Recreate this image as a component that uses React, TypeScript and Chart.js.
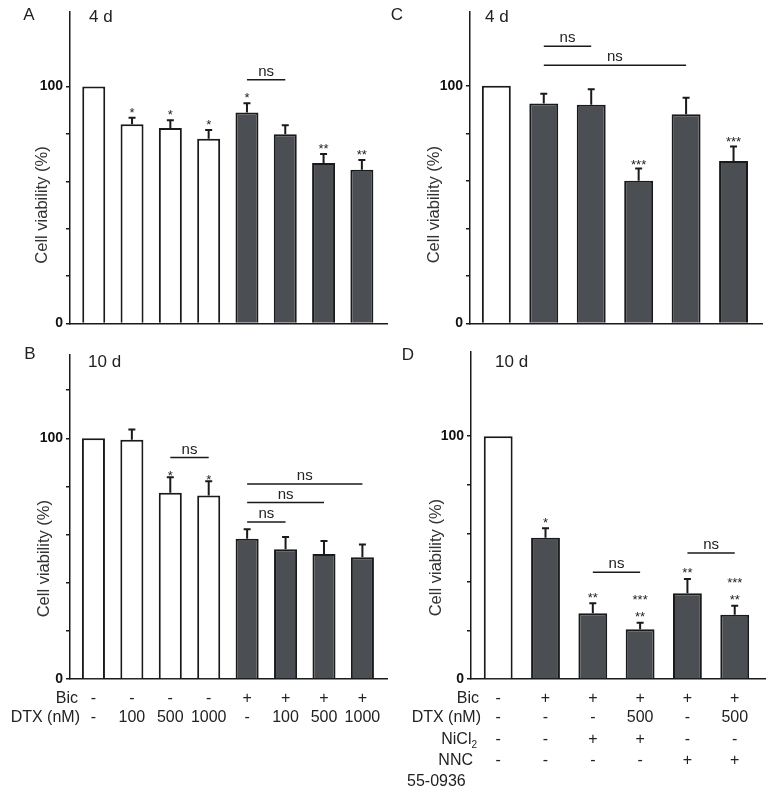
import React, { useEffect, useRef } from 'react';
import { Chart, registerables } from 'chart.js';

Chart.register(...registerables);

const FONT = '"Liberation Sans", Arial, Helvetica, sans-serif';
const WHITE = '#ffffff';
const DARK = '#4b4e52';
const INK = '#1a1a1a';
const TEXT = '#222222';

// ---------- Data: panels A / B (8 groups) ----------
const abBic = ['-', '-', '-', '-', '+', '+', '+', '+'];
const abDtx = ['-', '100', '500', '1000', '-', '100', '500', '1000'];

const aValues = [100, 84.1, 82.5, 77.9, 89.0, 79.8, 67.7, 64.9];
const aErrors = [0, 2.7, 3.2, 3.7, 3.9, 3.8, 3.8, 4.1];
const aStars = [[], ['*'], ['*'], ['*'], ['*'], [], ['**'], ['**']];
const aNs = [[4, 5, 102.8]];

const bValues = [100, 99.4, 77.4, 76.2, 58.3, 53.9, 51.9, 50.6];
const bErrors = [0, 4.2, 6.4, 6.0, 3.9, 5.1, 5.4, 5.3];
const bStars = [[], [], ['*'], ['*'], [], [], [], []];
const bNs = [[2, 3, 92.0], [4, 7, 81.0], [4, 6, 73.3], [4, 5, 65.2]];

// ---------- Data: panels C / D (6 groups) ----------
const cdBic = ['-', '+', '+', '+', '+', '+'];
const cdDtx = ['-', '-', '-', '500', '-', '500'];
const cdNiCl2 = ['-', '-', '+', '+', '-', '-'];
const cdNnc = ['-', '-', '-', '-', '+', '+'];

const cValues = [100, 92.5, 92.0, 60.1, 88.0, 68.4];
const cErrors = [0, 4.1, 6.5, 5.1, 6.9, 6.1];
const cStars = [[], [], [], ['***'], [], ['***']];
const cNs = [[1, 2, 116.6], [1, 4, 108.6]];

const dValues = [100, 58.2, 27.1, 20.5, 35.3, 26.5];
const dErrors = [0, 3.9, 4.1, 2.7, 5.9, 3.7];
const dStars = [[], ['*'], ['**'], ['***', '**'], ['**'], ['***', '**']];
const dNs = [[2, 3, 44.0], [4, 5, 51.9]];

type Row = { label: string; sub?: string; cells: string[]; dy: number; x: number; align?: CanvasTextAlign };

type PanelCfg = {
  letter: string;
  day: string;
  values: number[];
  errors: number[];
  stars: string[][];
  ns: number[][];
  bic: string[];
  box: { x: number; y: number; w: number; h: number };
  pad: { top: number; right: number; bottom: number };
  axisW: number;
  xMin: number;
  xMax: number;
  yMax: number;
  show120: boolean;
  barPct: number;
  titleX: number;
  letterPos: [number, number];
  dayPos: [number, number];
  starGap: number;
  rows: Row[];
};

const panels: PanelCfg[] = [
  {
    letter: 'A', day: '4 d', values: aValues, errors: aErrors, stars: aStars, ns: aNs, bic: abBic,
    box: { x: 0, y: 0, w: 390, h: 335 }, pad: { top: 12, right: 3, bottom: 8 }, axisW: 70,
    xMin: -0.62, xMax: 7.656, yMax: 131.4, show120: false, barPct: 0.6,
    titleX: 42, letterPos: [29, 15], dayPos: [89, 17], starGap: 8.5, rows: [],
  },
  {
    letter: 'C', day: '4 d', values: cValues, errors: cErrors, stars: cStars, ns: cNs, bic: cdBic,
    box: { x: 385, y: 0, w: 389, h: 335 }, pad: { top: 12, right: 12, bottom: 7 }, axisW: 85,
    xMin: -0.555, xMax: 5.6, yMax: 131, show120: false, barPct: 0.61,
    titleX: 49, letterPos: [12, 15], dayPos: [100, 17], starGap: 7.5, rows: [],
  },
  {
    letter: 'B', day: '10 d', values: bValues, errors: bErrors, stars: bStars, ns: bNs, bic: abBic,
    box: { x: 0, y: 335, w: 390, h: 457 }, pad: { top: 20, right: 3, bottom: 113 }, axisW: 70,
    xMin: -0.61, xMax: 7.64, yMax: 134.6, show120: true, barPct: 0.6,
    titleX: 44, letterPos: [30, 19], dayPos: [88, 27], starGap: 4.5,
    rows: [
      { label: 'Bic', cells: abBic, dy: 19.5, x: 78 },
      { label: 'DTX (nM)', cells: abDtx, dy: 39, x: 80 },
    ],
  },
  {
    letter: 'D', day: '10 d', values: dValues, errors: dErrors, stars: dStars, ns: dNs, bic: cdBic,
    box: { x: 385, y: 335, w: 389, h: 457 }, pad: { top: 17, right: 9, bottom: 113 }, axisW: 86,
    xMin: -0.575, xMax: 5.64, yMax: 134.7, show120: false, barPct: 0.61,
    titleX: 51, letterPos: [23, 20], dayPos: [110, 27], starGap: 9,
    rows: [
      { label: 'Bic', cells: cdBic, dy: 19.5, x: 94 },
      { label: 'DTX (nM)', cells: cdDtx, dy: 39, x: 96 },
      { label: 'NiCl', sub: '2', cells: cdNiCl2, dy: 61, x: 92 },
      { label: 'NNC', cells: cdNnc, dy: 81.5, x: 88 },
      { label: '55-0936', cells: [], dy: 103, x: 22, align: 'left' },
    ],
  },
];

function makeDecorPlugin(cfg: PanelCfg) {
  return {
    id: 'decor' + cfg.letter,
    afterDatasetsDraw(chart: any) {
      const ctx: CanvasRenderingContext2D = chart.ctx;
      const xs = chart.scales.x;
      const ys = chart.scales.y;
      const area = chart.chartArea;
      const meta = chart.getDatasetMeta(0);
      ctx.save();
      // error bars
      ctx.strokeStyle = INK;
      ctx.lineWidth = 2;
      meta.data.forEach((bar: any, i: number) => {
        const e = cfg.errors[i];
        if (!e) return;
        const base = ys.getPixelForValue(cfg.values[i]);
        const top = ys.getPixelForValue(cfg.values[i] + e);
        ctx.beginPath();
        ctx.moveTo(bar.x, base);
        ctx.lineTo(bar.x, top);
        ctx.moveTo(bar.x - 3.5, top);
        ctx.lineTo(bar.x + 3.5, top);
        ctx.stroke();
      });
      // stars
      ctx.fillStyle = TEXT;
      ctx.textAlign = 'center';
      ctx.textBaseline = 'alphabetic';
      ctx.font = `13px ${FONT}`;
      meta.data.forEach((bar: any, i: number) => {
        const lines = cfg.stars[i];
        if (!lines || !lines.length) return;
        const top = ys.getPixelForValue(cfg.values[i] + cfg.errors[i]);
        const n = lines.length;
        lines.forEach((s, k) => {
          const cy = top - cfg.starGap - (n - 1 - k) * 17;
          ctx.fillText(s, bar.x, cy + 7.5);
        });
      });
      // ns brackets
      ctx.lineWidth = 1.5;
      ctx.font = `15px ${FONT}`;
      ctx.textBaseline = 'middle';
      cfg.ns.forEach(([a, b, v]) => {
        const x1 = xs.getPixelForValue(a);
        const x2 = xs.getPixelForValue(b);
        const y = ys.getPixelForValue(v);
        ctx.beginPath();
        ctx.moveTo(x1, y);
        ctx.lineTo(x2, y);
        ctx.stroke();
        ctx.fillText('ns', (x1 + x2) / 2, y - 8);
      });
      ctx.restore();
    },
    afterDraw(chart: any) {
      const ctx: CanvasRenderingContext2D = chart.ctx;
      const xs = chart.scales.x;
      const ys = chart.scales.y;
      const area = chart.chartArea;
      ctx.save();
      ctx.fillStyle = TEXT;
      // panel letter & day
      ctx.font = `17px ${FONT}`;
      ctx.textBaseline = 'middle';
      ctx.textAlign = 'center';
      ctx.fillText(cfg.letter, cfg.letterPos[0], cfg.letterPos[1]);
      ctx.textAlign = 'left';
      ctx.fillText(cfg.day, cfg.dayPos[0], cfg.dayPos[1]);
      // y title
      ctx.save();
      ctx.fillStyle = '#333333';
      ctx.font = `16.5px ${FONT}`;
      ctx.translate(cfg.titleX, ys.getPixelForValue(50));
      ctx.rotate(-Math.PI / 2);
      ctx.textAlign = 'center';
      ctx.textBaseline = 'middle';
      ctx.fillText('Cell viability (%)', 0, 0);
      ctx.restore();
      // condition table
      ctx.font = `16px ${FONT}`;
      ctx.textBaseline = 'middle';
      cfg.rows.forEach((r) => {
        const y = area.bottom + r.dy;
        if (r.align === 'left') {
          ctx.textAlign = 'left';
          ctx.fillText(r.label, r.x, y);
        } else if (r.sub) {
          ctx.font = `10px ${FONT}`;
          const sw = ctx.measureText(r.sub).width;
          ctx.textAlign = 'left';
          ctx.fillText(r.sub, r.x - sw, y + 5);
          ctx.font = `16px ${FONT}`;
          ctx.textAlign = 'right';
          ctx.fillText(r.label, r.x - sw, y);
        } else {
          ctx.textAlign = 'right';
          ctx.fillText(r.label, r.x, y);
        }
        ctx.textAlign = 'center';
        r.cells.forEach((c, i) => {
          ctx.fillText(c, xs.getPixelForValue(i), y);
        });
      });
      ctx.restore();
    },
  };
}

function buildConfig(cfg: PanelCfg): any {
  const data = cfg.values.map((v, i) => ({ x: i, y: v }));
  return {
    type: 'bar',
    data: {
      datasets: [
        {
          data,
          backgroundColor: cfg.bic.map((b) => (b === '+' ? DARK : WHITE)),
          borderColor: INK,
          borderWidth: 2,
          borderSkipped: 'start',
          barPercentage: cfg.barPct,
          categoryPercentage: 1,
        },
      ],
    },
    options: {
      animation: false,
      responsive: false,
      devicePixelRatio: 1,
      layout: { padding: { left: 0, top: cfg.pad.top, right: cfg.pad.right, bottom: cfg.pad.bottom } },
      plugins: { legend: { display: false }, tooltip: { enabled: false } },
      scales: {
        x: {
          type: 'linear',
          min: cfg.xMin,
          max: cfg.xMax,
          offset: false,
          grid: { display: false, offset: false },
          ticks: { display: false },
          border: { display: true, color: INK, width: 1.5 },
          afterFit: (s: any) => {
            s.height = 0;
          },
        },
        y: {
          type: 'linear',
          min: 0,
          max: cfg.yMax,
          grid: {
            drawOnChartArea: false,
            drawTicks: true,
            tickLength: 4,
            lineWidth: 1.5,
            color: (c: any) => (c.tick && c.tick.value === 120 && !cfg.show120 ? 'rgba(0,0,0,0)' : INK),
          },
          border: { display: true, color: INK, width: 1.5 },
          ticks: {
            stepSize: 20,
            includeBounds: false,
            padding: 3,
            color: '#111111',
            font: { family: FONT, size: 14, weight: 'bold' },
            callback: (v: any) => (v === 0 || v === 100 ? String(v) : ''),
          },
          afterFit: (s: any) => {
            s.width = cfg.axisW;
          },
        },
      },
    },
    plugins: [makeDecorPlugin(cfg)],
  };
}

function Panel({ cfg }: { cfg: PanelCfg }) {
  const ref = useRef<HTMLCanvasElement>(null);
  useEffect(() => {
    const chart = new Chart(ref.current as HTMLCanvasElement, buildConfig(cfg));
    return () => chart.destroy();
  }, [cfg]);
  return (
    <canvas
      ref={ref}
      width={cfg.box.w}
      height={cfg.box.h}
      style={{ position: 'absolute', left: cfg.box.x, top: cfg.box.y, width: cfg.box.w, height: cfg.box.h }}
    />
  );
}

export default function App() {
  return (
    <div style={{ position: 'absolute', left: 0, top: 0, width: 774, height: 792, background: '#ffffff', overflow: 'hidden' }}>
      {panels.map((p) => (
        <Panel key={p.letter} cfg={p} />
      ))}
    </div>
  );
}
